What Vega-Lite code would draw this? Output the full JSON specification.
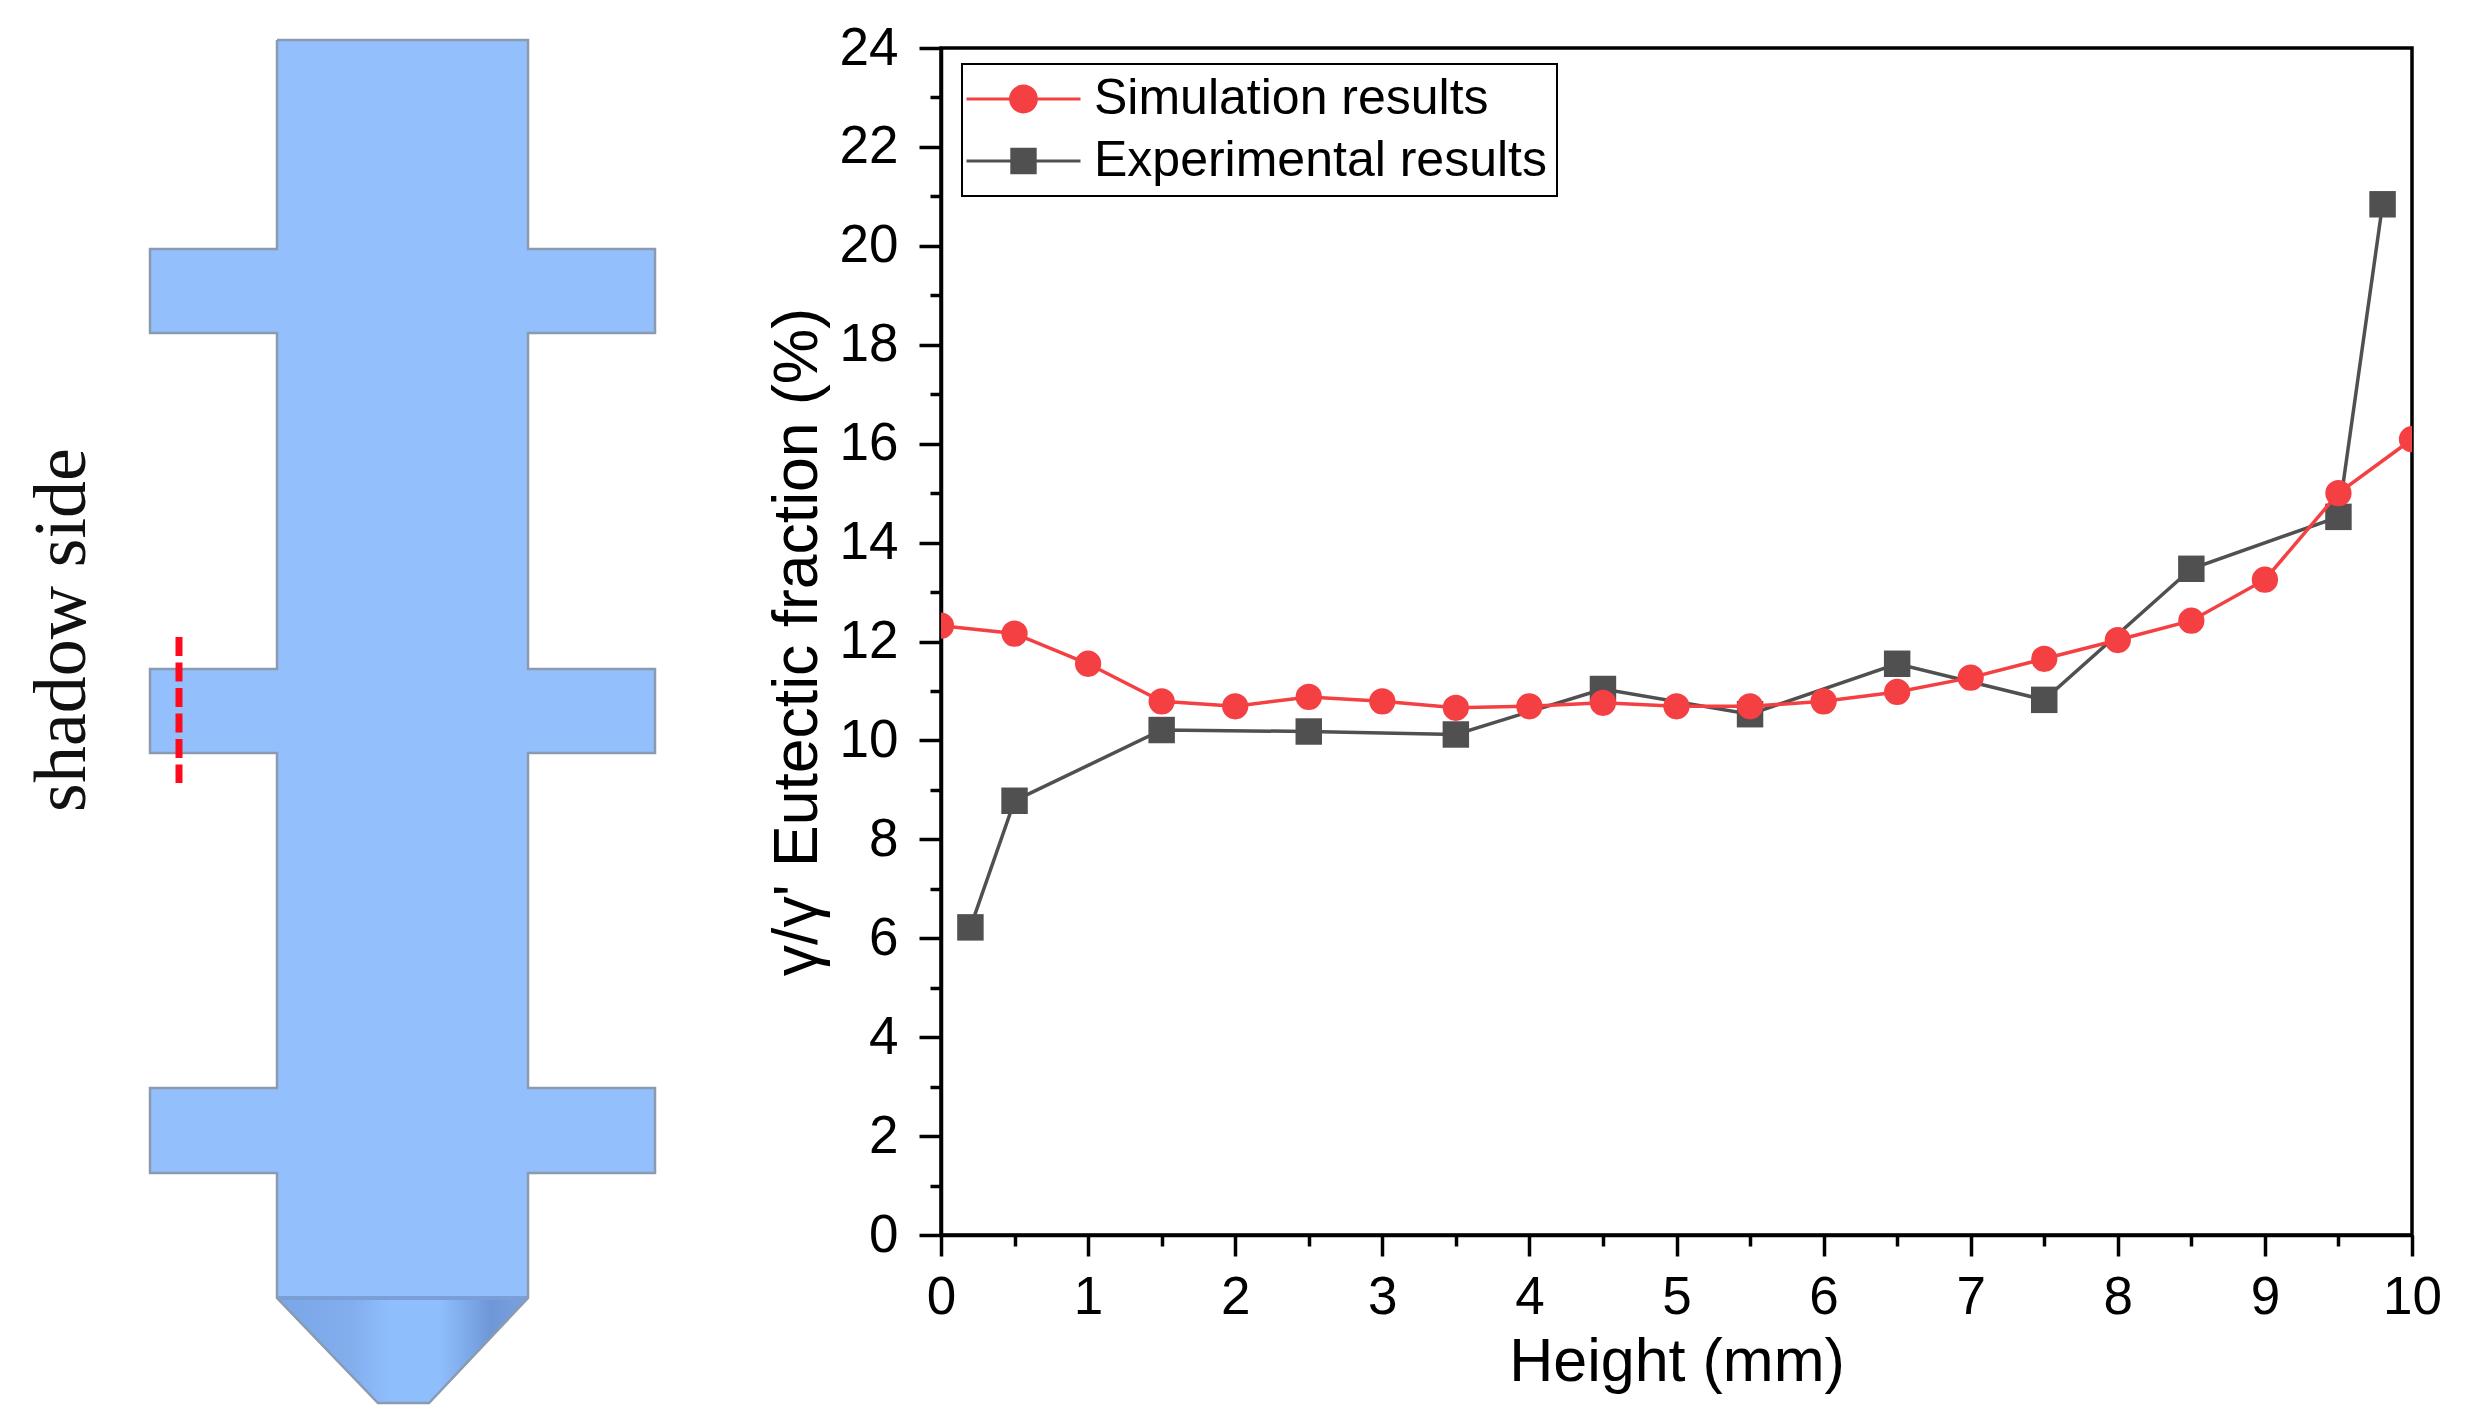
{
"$schema":"https://vega.github.io/schema/vega-lite/v6.json",
"background":"white",
"padding":{"left":0,"top":20,"right":0,"bottom":0},
"bounds":"flush",
"spacing":0,
"datasets":{
"outline":[{"i":1,"x":277,"y":41},{"i":2,"x":528,"y":41},{"i":3,"x":528,"y":250},{"i":4,"x":655,"y":250},{"i":5,"x":655,"y":334},{"i":6,"x":528,"y":334},{"i":7,"x":528,"y":670},{"i":8,"x":655,"y":670},{"i":9,"x":655,"y":754},{"i":10,"x":528,"y":754},{"i":11,"x":528,"y":1089},{"i":12,"x":655,"y":1089},{"i":13,"x":655,"y":1174},{"i":14,"x":528,"y":1174},{"i":15,"x":528,"y":1299},{"i":16,"x":429,"y":1404},{"i":17,"x":378,"y":1404},{"i":18,"x":277,"y":1299},{"i":19,"x":277,"y":1174},{"i":20,"x":150,"y":1174},{"i":21,"x":150,"y":1089},{"i":22,"x":277,"y":1089},{"i":23,"x":277,"y":754},{"i":24,"x":150,"y":754},{"i":25,"x":150,"y":670},{"i":26,"x":277,"y":670},{"i":27,"x":277,"y":334},{"i":28,"x":150,"y":334},{"i":29,"x":150,"y":250},{"i":30,"x":277,"y":250},{"i":31,"x":277,"y":41}],
"blocks":[{"x0":277,"x1":528,"y0":41,"y1":1299},{"x0":150,"x1":655,"y0":250,"y1":334},{"x0":150,"x1":655,"y0":670,"y1":754},{"x0":150,"x1":655,"y0":1089,"y1":1174}],
"cone":[{"x":277,"top":1299,"bot":1299},{"x":378,"top":1299,"bot":1404},{"x":429,"top":1299,"bot":1404},{"x":528,"top":1299,"bot":1299}],
"results":[
{"series":"Simulation results","h":0,"f":12.32},{"series":"Simulation results","h":0.5,"f":12.16},{"series":"Simulation results","h":1,"f":11.55},{"series":"Simulation results","h":1.5,"f":10.79},{"series":"Simulation results","h":2,"f":10.69},{"series":"Simulation results","h":2.5,"f":10.88},{"series":"Simulation results","h":3,"f":10.79},{"series":"Simulation results","h":3.5,"f":10.66},{"series":"Simulation results","h":4,"f":10.69},{"series":"Simulation results","h":4.5,"f":10.76},{"series":"Simulation results","h":5,"f":10.69},{"series":"Simulation results","h":5.5,"f":10.69},{"series":"Simulation results","h":6,"f":10.79},{"series":"Simulation results","h":6.5,"f":10.98},{"series":"Simulation results","h":7,"f":11.27},{"series":"Simulation results","h":7.5,"f":11.65},{"series":"Simulation results","h":8,"f":12.03},{"series":"Simulation results","h":8.5,"f":12.42},{"series":"Simulation results","h":9,"f":13.25},{"series":"Simulation results","h":9.5,"f":15.0},{"series":"Simulation results","h":10,"f":16.09},
{"series":"Experimental results","h":0.2,"f":6.22},{"series":"Experimental results","h":0.5,"f":8.78},{"series":"Experimental results","h":1.5,"f":10.21},{"series":"Experimental results","h":2.5,"f":10.18},{"series":"Experimental results","h":3.5,"f":10.12},{"series":"Experimental results","h":4.5,"f":11.04},{"series":"Experimental results","h":5.5,"f":10.53},{"series":"Experimental results","h":6.5,"f":11.55},{"series":"Experimental results","h":7.5,"f":10.82},{"series":"Experimental results","h":8.5,"f":13.47},{"series":"Experimental results","h":9.5,"f":14.52},{"series":"Experimental results","h":9.8,"f":20.84}
]
},
"config":{"legend":{"strokeWidth":2}},
"hconcat":[
{
"width":941,"height":1187,
"view":{"stroke":null},
"encoding":{},
"layer":[
{"data":{"name":"blocks"},"mark":{"type":"rect","color":"#94bffd"},
 "encoding":{"x":{"field":"x0","type":"quantitative","scale":{"domain":[0,941],"nice":false,"zero":false},"axis":null},"x2":{"field":"x1"},"y":{"field":"y0","type":"quantitative","scale":{"domain":[1236,49],"nice":false,"zero":false},"axis":null},"y2":{"field":"y1"}}},
{"data":{"name":"cone"},"mark":{"type":"area","orient":"vertical","color":{"gradient":"linear","x1":0,"x2":1,"y1":0,"y2":0,"stops":[{"offset":0,"color":"#7aa5e6"},{"offset":0.3,"color":"#82aeee"},{"offset":0.45,"color":"#8fbefd"},{"offset":0.65,"color":"#8fbefd"},{"offset":0.85,"color":"#6f97d8"},{"offset":1,"color":"#7aa2e0"}]}},
 "encoding":{"x":{"field":"x","type":"quantitative","scale":{"domain":[0,941],"nice":false,"zero":false},"axis":null},"y":{"field":"top","type":"quantitative","scale":{"domain":[1236,49],"nice":false,"zero":false},"axis":null},"y2":{"field":"bot"}}},
{"data":{"values":[{"x0":277,"x1":528,"y":1299}]},"mark":{"type":"rule","color":"#7a9fd6","strokeWidth":4},
 "encoding":{"x":{"field":"x0","type":"quantitative","axis":null},"x2":{"field":"x1"},"y":{"field":"y","type":"quantitative","axis":null}}},
{"data":{"name":"outline"},"mark":{"type":"line","color":"#8a9bb0","strokeWidth":2.5,"strokeJoin":"miter"},
 "encoding":{"x":{"field":"x","type":"quantitative","axis":null},"y":{"field":"y","type":"quantitative","axis":null},"order":{"field":"i","type":"quantitative"}}},
{"data":{"values":[{"x":179,"y0":638,"y1":784}]},"mark":{"type":"rule","color":"#fd0a1e","strokeWidth":7,"strokeDash":[19,6.5]},
 "encoding":{"x":{"field":"x","type":"quantitative","axis":null},"y":{"field":"y0","type":"quantitative","axis":null},"y2":{"field":"y1"}}},
{"data":{"values":[{"x":63,"y":631,"label":"shadow side"}]},"mark":{"type":"text","font":"Liberation Serif","fontSize":74,"angle":270,"align":"center","baseline":"middle","color":"#111111"},
 "encoding":{"x":{"field":"x","type":"quantitative","axis":null},"y":{"field":"y","type":"quantitative","axis":null},"text":{"field":"label"}}}
]
},
{
"width":1471,"height":1187,
"view":{"stroke":"black","strokeWidth":3.5},
"data":{"name":"results"},
"resolve":{"axis":{"x":"independent","y":"independent"}},
"layer":[
{"transform":[{"filter":"datum.series==='Experimental results'"}],"mark":{"type":"line","color":"#505050","strokeWidth":3.5},
 "encoding":{
  "x":{"field":"h","type":"quantitative","scale":{"domain":[0,10],"nice":false,"zero":false},"axis":{"orient":"bottom","title":"Height (mm)","values":[0,1,2,3,4,5,6,7,8,9,10],"tickSize":21,"tickWidth":3.5,"tickColor":"black","domainColor":"black","domainWidth":3.5,"grid":false,"labelFont":"Liberation Sans","labelFontSize":53,"labelColor":"black","labelPadding":15,"labelFlush":false,"labelOverlap":false,"titleFont":"Liberation Sans","titleFontSize":61,"titleFontWeight":"normal","titleColor":"black","titlePadding":8}},
  "y":{"field":"f","type":"quantitative","scale":{"domain":[0,24],"nice":false,"zero":false},"axis":{"orient":"left","title":"γ/γ' Eutectic fraction (%)","values":[0,2,4,6,8,10,12,14,16,18,20,22,24],"tickSize":22,"tickWidth":3.5,"tickColor":"black","domainColor":"black","domainWidth":3.5,"grid":false,"labelFont":"Liberation Sans","labelFontSize":53,"labelColor":"black","labelPadding":21,"labelFlush":false,"labelOverlap":false,"titleFont":"Liberation Sans","titleFontSize":62.5,"titleFontWeight":"normal","titleColor":"black","titlePadding":10}}
 }},
{"transform":[{"filter":"datum.series==='Experimental results'"}],"mark":{"type":"point","shape":"square","filled":true,"size":700,"opacity":1,"color":"#505050"},
 "encoding":{
  "x":{"field":"h","type":"quantitative","axis":{"orient":"bottom","title":null,"values":[0.5,1.5,2.5,3.5,4.5,5.5,6.5,7.5,8.5,9.5],"tickSize":11,"tickWidth":3.5,"tickColor":"black","domain":false,"labels":false,"grid":false}},
  "y":{"field":"f","type":"quantitative","axis":{"orient":"left","title":null,"values":[1,3,5,7,9,11,13,15,17,19,21,23],"tickSize":11,"tickWidth":3.5,"tickColor":"black","domain":false,"labels":false,"grid":false}}
 }},
{"transform":[{"filter":"datum.series==='Simulation results'"}],"mark":{"type":"line","color":"#f44043","strokeWidth":3.5,"clip":true},
 "encoding":{"x":{"field":"h","type":"quantitative","axis":null},"y":{"field":"f","type":"quantitative","axis":null}}},
{"transform":[{"filter":"datum.series==='Simulation results'"}],"mark":{"type":"point","shape":"circle","filled":true,"size":690,"opacity":1,"color":"#f44043","clip":true},
 "encoding":{"x":{"field":"h","type":"quantitative","axis":null},"y":{"field":"f","type":"quantitative","axis":null}}},
{"transform":[{"filter":"false"}],"mark":{"type":"point","filled":true,"opacity":1},
 "encoding":{
  "x":{"field":"h","type":"quantitative","axis":null},"y":{"field":"f","type":"quantitative","axis":null},
  "color":{"field":"series","type":"nominal","scale":{"domain":["Simulation results","Experimental results"],"range":["#f44043","#505050"]}},
  "shape":{"field":"series","type":"nominal","scale":{"domain":["Simulation results","Experimental results"],"range":["M-2.85,-0.08H2.85V0.08H-2.85Z M-0.72,0A0.72,0.72,0,1,1,0.72,0A0.72,0.72,0,1,1,-0.72,0Z","M-2.85,-0.08H2.85V0.08H-2.85Z M-0.66,-0.66H0.66V0.66H-0.66Z"]},
   "legend":{"title":null,"orient":"none","legendX":962,"legendY":16,"padding":10,"strokeColor":"black","fillColor":"white","labelFont":"Liberation Sans","labelFontSize":50,"labelLimit":1000,"labelColor":"black","labelOffset":45.5,"symbolSize":1600,"symbolOffset":26.5,"rowPadding":12,"symbolStrokeWidth":0,"symbolOpacity":1}}
 }}
]
}
]
}
